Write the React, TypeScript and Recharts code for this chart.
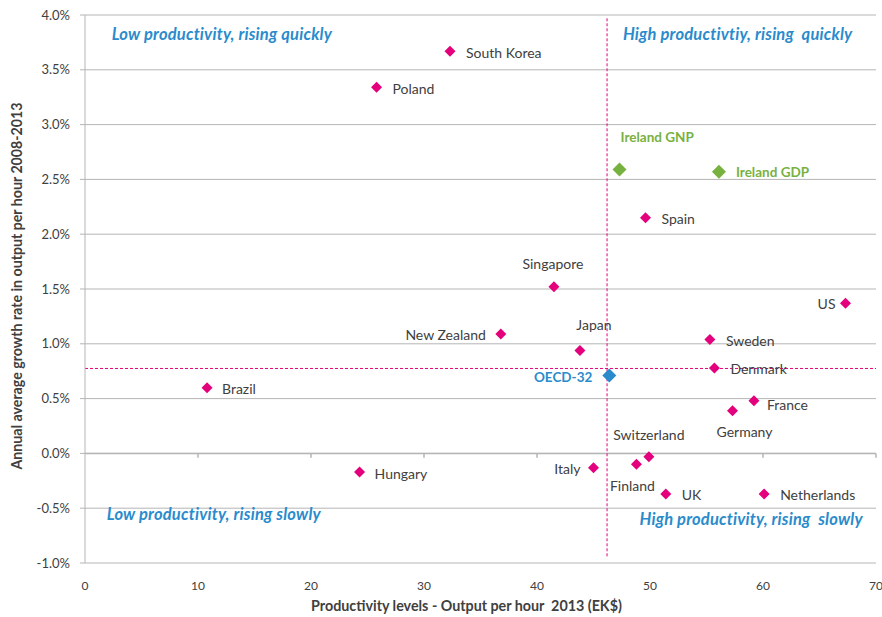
import React from "react";
import {
  ScatterChart, Scatter, XAxis, YAxis, CartesianGrid,
  ReferenceLine, ReferenceDot, Label,
} from "recharts";

// country points: productivity (EK$ per hour, 2013) vs growth (% p.a. 2008-2013)
const countryNames = [
  "South Korea", "Poland", "Spain", "Singapore", "US", "New Zealand", "Sweden",
  "Japan", "Denmark", "Brazil", "France", "Germany", "Switzerland", "Finland",
  "Italy", "Hungary", "UK", "Netherlands",
];
const countryProductivity = [
  32.3, 25.8, 49.6, 41.5, 67.3, 36.8, 55.3,
  43.8, 55.7, 10.8, 59.2, 57.3, 49.9, 48.8,
  45.0, 24.3, 51.4, 60.1,
];
const countryGrowth = [
  3.67, 3.34, 2.15, 1.52, 1.37, 1.09, 1.04,
  0.94, 0.78, 0.6, 0.48, 0.39, -0.03, -0.1,
  -0.13, -0.17, -0.37, -0.37,
];

const irelandNames = ["Ireland GNP", "Ireland GDP"];
const irelandProductivity = [47.3, 56.1];
const irelandGrowth = [2.59, 2.57];

const oecdNames = ["OECD-32"];
const oecdProductivity = [46.4];
const oecdGrowth = [0.71];

const avgProductivity = 46.2;
const avgGrowth = 0.775;

const xTicks = [0, 10, 20, 30, 40, 50, 60, 70];
const yTicks = [-1, -0.5, 0, 0.5, 1, 1.5, 2, 2.5, 3, 3.5, 4];

const quadrantNotes = [
  { text: "Low productivity, rising quickly", x: 2.36, y: 3.83 },
  { text: "High productivtiy, rising  quickly", x: 47.6, y: 3.83 },
  { text: "Low productivity, rising slowly", x: 1.92, y: -0.55 },
  { text: "High productivity, rising  slowly", x: 49.07, y: -0.595 },
];

const toRows = (names: string[], xs: number[], ys: number[]) =>
  names.map((name, i) => ({ name, x: xs[i], y: ys[i] }));

const countries = toRows(countryNames, countryProductivity, countryGrowth);
const ireland = toRows(irelandNames, irelandProductivity, irelandGrowth);
const oecd = toRows(oecdNames, oecdProductivity, oecdGrowth);

// label offsets from the marker: [dx, dy, anchor]
const labelPlace: Record<string, [number, number, string]> = {
  "South Korea": [16, 1, "start"],
  Poland: [16, 1, "start"],
  Spain: [16, 1, "start"],
  Singapore: [-1, -23, "middle"],
  US: [-10, 0, "end"],
  "New Zealand": [-15, 1, "end"],
  Sweden: [16, 1, "start"],
  Japan: [14, -26, "middle"],
  Denmark: [16, 1, "start"],
  Brazil: [15, 1, "start"],
  France: [13, 4, "start"],
  Germany: [12, 21, "middle"],
  Switzerland: [0, -22, "middle"],
  Finland: [-4, 21, "middle"],
  Italy: [-13, 1, "end"],
  Hungary: [15, 1, "start"],
  UK: [16, 1, "start"],
  Netherlands: [16, 1, "start"],
  "Ireland GNP": [1, -33, "start"],
  "Ireland GDP": [17, 0, "start"],
  "OECD-32": [-17, 1, "end"],
};

const FONT = "Lato, 'Open Sans', sans-serif";
const PINK = "#E4007C";
const GREEN = "#77B13F";
const BLUE = "#2A8BCC";
const GRID = "#B5B5B5";
const TEXT = "#404040";

const diamond = (r: number, fill: string, labelColor: string, bold: boolean) =>
  (props: any) => {
    const { cx, cy, payload } = props;
    const [dx, dy, anchor] = labelPlace[payload.name] || [14, 0, "start"];
    return (
      <g>
        <polygon
          points={`${cx},${cy - r} ${cx + r},${cy} ${cx},${cy + r} ${cx - r},${cy}`}
          fill={fill}
        />
        <text
          x={cx + dx}
          y={cy + dy}
          textAnchor={anchor as any}
          dominantBaseline="central"
          fontFamily={FONT}
          fontSize={bold ? 13.5 : 14}
          fontWeight={bold ? 700 : 400}
          fill={labelColor}
        >
          {payload.name}
        </text>
      </g>
    );
  };

export default function App() {
  return (
    <div style={{ width: 882, height: 617, background: "#fff" }}>
      <style>{`body{margin:0}`}</style>
      <ScatterChart
        width={882}
        height={617}
        margin={{ top: 15, right: 6, bottom: 24, left: 30 }}
      >
        <CartesianGrid vertical={false} stroke={GRID} strokeWidth={1} />
        <XAxis
          type="number"
          dataKey="x"
          domain={[0, 70]}
          ticks={xTicks}
          axisLine={false}
          tickLine={false}
          tickMargin={12}
          height={30}
          interval={0}
          tick={{ fill: TEXT, fontSize: 12, fontFamily: FONT }}
        >
          <Label
            content={(p: any) => (
              <text
                x={p.viewBox.x + p.viewBox.width / 2 - 14}
                y={605}
                textAnchor="middle"
                dominantBaseline="central"
                fontFamily={FONT}
                fontSize={14.3}
                fontWeight={700}
                fill={TEXT}
                xmlSpace="preserve"
              >
                Productivity levels - Output per hour  2013 (EK$)
              </text>
            )}
          />
        </XAxis>
        <YAxis
          type="number"
          dataKey="y"
          domain={[-1, 4]}
          ticks={yTicks}
          width={55}
          interval={0}
          axisLine={{ stroke: GRID }}
          tickLine={{ stroke: GRID }}
          tickSize={5}
          tickMargin={10}
          tickFormatter={(v: number) => `${v.toFixed(1)}%`}
          tick={{ fill: TEXT, fontSize: 13, fontFamily: FONT }}
        >
          <Label
            content={() => (
              <text
                x={16}
                y={286}
                transform="rotate(-90 16 286)"
                textAnchor="middle"
                dominantBaseline="central"
                fontFamily={FONT}
                fontSize={14.2}
                fontWeight={700}
                fill={TEXT}
              >
                Annual average growth rate in output per hour 2008-2013
              </text>
            )}
          />
        </YAxis>

        <ReferenceLine y={0} stroke={GRID} strokeWidth={1.5} />
        {xTicks.slice(1).map((t) => (
          <ReferenceLine
            key={t}
            segment={[{ x: t, y: 0 }, { x: t, y: -0.04 }]}
            stroke={GRID}
            strokeWidth={1.5}
          />
        ))}
        <ReferenceLine
          y={avgGrowth}
          stroke={PINK}
          strokeDasharray="3 2"
          strokeWidth={1}
        />
        <ReferenceLine
          segment={[{ x: avgProductivity, y: 3.97 }, { x: avgProductivity, y: -0.95 }]}
          stroke={PINK}
          strokeDasharray="3 2"
          strokeWidth={1}
        />

        {quadrantNotes.map((q) => (
          <ReferenceDot
            key={q.text}
            x={q.x}
            y={q.y}
            r={0}
            fill="none"
            stroke="none"
            label={(p: any) => (
              <text
                x={p.viewBox.x}
                y={p.viewBox.y}
                dominantBaseline="central"
                fontFamily={FONT}
                fontSize={16.5}
                letterSpacing={0.2}
                fontStyle="italic"
                fontWeight={700}
                fill={BLUE}
                xmlSpace="preserve"
              >
                {q.text}
              </text>
            )}
          />
        ))}

        <Scatter
          data={countries}
          fill={PINK}
          isAnimationActive={false}
          shape={diamond(5.5, PINK, TEXT, false)}
        />
        <Scatter
          data={ireland}
          fill={GREEN}
          isAnimationActive={false}
          shape={diamond(7, GREEN, GREEN, true)}
        />
        <Scatter
          data={oecd}
          fill={BLUE}
          isAnimationActive={false}
          shape={diamond(7, BLUE, BLUE, true)}
        />
      </ScatterChart>
    </div>
  );
}
